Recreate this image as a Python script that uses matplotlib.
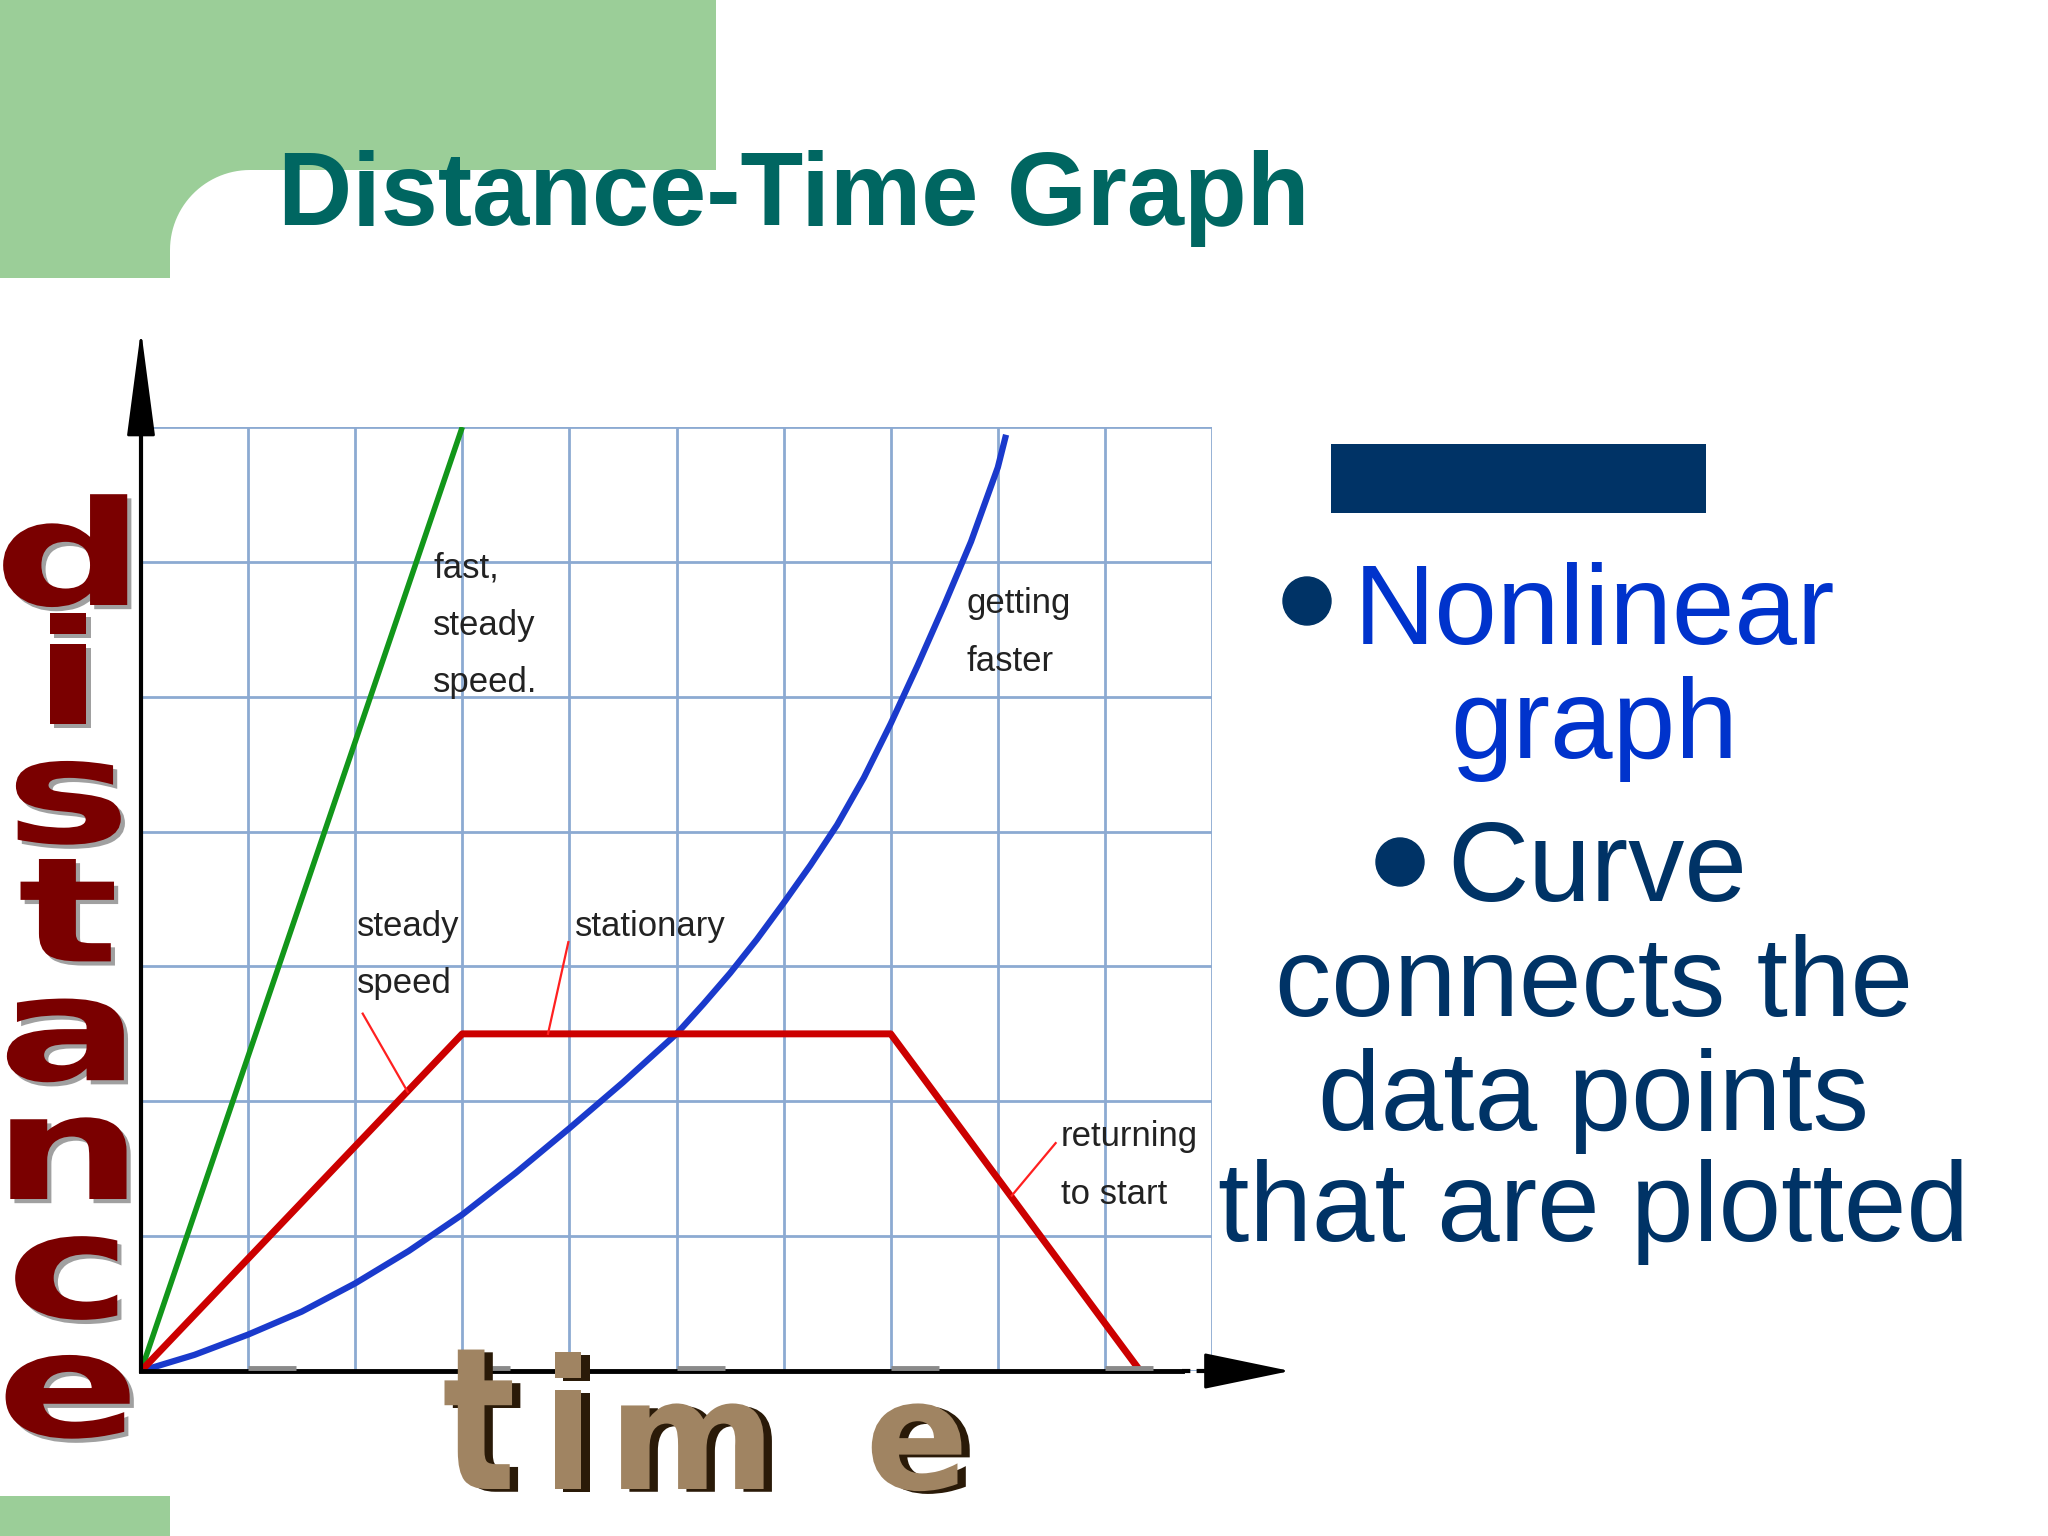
import matplotlib
matplotlib.use('Agg')
import matplotlib.pyplot as plt
import matplotlib.patheffects as pe
from matplotlib.colors import to_rgba
from matplotlib.patches import Rectangle, Circle, Polygon
from matplotlib.transforms import Affine2D
import numpy as np

# %% data (time units on x, distance units on y)
time_ticks = list(range(11))
dist_ticks = list(range(8))

green_t = [0, 3]
green_d = [0, 7]

red_t = [0, 3, 7, 9.33]
red_d = [0, 2.5, 2.5, 0]

blue_t = [0, 0.5, 1, 1.5, 2, 2.5, 3, 3.5, 4, 4.5, 5, 5.25, 5.5, 5.75, 6, 6.25, 6.5, 6.75,
          7, 7.25, 7.5, 7.75, 8, 8.07]
blue_d = [0, 0.12, 0.27, 0.44, 0.65, 0.89, 1.16, 1.47, 1.8, 2.14, 2.5, 2.72, 2.95, 3.2, 3.47,
          3.75, 4.05, 4.4, 4.8, 5.23, 5.68, 6.15, 6.7, 6.92]

labels = ['fast,\nsteady\nspeed.', 'steady\nspeed', 'stationary', 'getting\nfaster', 'returning\nto start']


class Stretch(pe.AbstractPathEffect):
    """Draw a text path scaled about its own bottom centre (word-art look)."""

    def __init__(self, sx=1.0, sy=1.0, offset=(0, 0), color=None):
        super().__init__(offset)
        self.sx, self.sy = sx, sy
        self.color = to_rgba(color) if color is not None else None

    def draw_path(self, renderer, gc, tpath, affine, rgbFace=None):
        bb = tpath.get_extents(affine)
        cx, cy = bb.x0 + bb.width / 2, bb.y0
        ox, oy = renderer.points_to_pixels(self._offset[0]), renderer.points_to_pixels(self._offset[1])
        tr = affine + Affine2D().translate(-cx, -cy).scale(self.sx, self.sy).translate(cx + ox, cy + oy)
        gc0 = renderer.new_gc()
        gc0.copy_properties(gc)
        face = self.color if self.color is not None else rgbFace
        renderer.draw_path(gc0, tpath, tr, face)
        gc0.restore()


# %% figure
W, H = 2048, 1536
fig = plt.figure(figsize=(W / 100, H / 100), dpi=100)
fig.patch.set_facecolor('white')

bg = fig.add_axes([0, 0, 1, 1], zorder=0)
bg.set_xlim(0, W)
bg.set_ylim(H, 0)
bg.axis('off')

green = '#9bce98'
navy = '#003366'
blue_txt = '#0033cc'

# slide decoration
bg.add_patch(Rectangle((0, 0), 716, 170, color=green, lw=0))
bg.add_patch(Rectangle((0, 0), 170, 278, color=green, lw=0))
r = 80
th = np.linspace(-np.pi / 2, -np.pi, 30)
arc = np.column_stack([170 + r + r * np.cos(th), 170 + r + r * np.sin(th)])
bg.add_patch(Polygon(np.vstack([[170, 170], arc]), closed=True, color=green, lw=0))
bg.add_patch(Rectangle((0, 1496), 170, 40, color=green, lw=0))

bg.text(278, 225, 'Distance-Time Graph', color='#006661', fontsize=74,
        fontweight='bold', family='Liberation Sans', ha='left', va='baseline')

# right-hand bullet text
bg.add_patch(Rectangle((1331, 444), 375, 69, color=navy, lw=0))
tk = dict(fontsize=81, family='Liberation Sans', va='baseline')
bg.add_patch(Circle((1307, 601), 24, color=navy))
bg.text(1354, 644, 'Nonlinear', color=blue_txt, ha='left', **tk)
bg.text(1594, 758, 'graph', color=blue_txt, ha='center', **tk)
bg.add_patch(Circle((1400, 862), 24, color=navy))
bg.text(1447, 901, 'Curve', color=navy, ha='left', **tk)
bg.text(1594, 1016, 'connects the', color=navy, ha='center', **tk)
bg.text(1594, 1130, 'data points', color=navy, ha='center', **tk)
bg.text(1594, 1241, 'that are plotted', color=navy, ha='center', **tk)

# %% the graph itself
ax = fig.add_axes([141 / W, (H - 1371) / H, (1212 - 141) / W, (1371 - 427) / H], zorder=1)
ax.set_xlim(0, 10)
ax.set_ylim(0, 7)
ax.patch.set_alpha(0)
for s in ax.spines.values():
    s.set_visible(False)
ax.set_xticks(time_ticks)
ax.set_yticks(dist_ticks)
ax.tick_params(length=0, labelbottom=False, labelleft=False)
ax.grid(True, color='#8caad2', lw=2)

ax.plot(green_t, green_d, color='#12961a', lw=4, solid_capstyle='butt')
ax.plot(blue_t, blue_d, color='#1a3acc', lw=4.5)
ax.plot(red_t, red_d, color='#cc0000', lw=5)

# axes with arrows
ax.plot([0, 0], [0, 7], color='k', lw=3, clip_on=False)
ax.plot([0, 9.72], [0, 0], color='k', lw=3.5, clip_on=False)
ax.plot([9.72, 10.0], [0, 0], color='k', lw=3, ls=(0, (2, 1.5)), clip_on=False)
# faint grey stubs left on the time axis (hidden tick labels in the source image)
odd = time_ticks[1:10:2]
ax.hlines([0.02] * len(odd), odd, [t + 0.45 for t in odd], color='#8a8a8a', lw=3.5, zorder=3)
ax.annotate('', xy=(0, 7.72), xytext=(0, 6.95), annotation_clip=False,
            arrowprops=dict(arrowstyle='-|>,head_length=3.4,head_width=0.45', mutation_scale=20,
                            color='k', lw=2, shrinkA=0, shrinkB=0))
ax.annotate('', xy=(10.73, 0), xytext=(9.95, 0), annotation_clip=False,
            arrowprops=dict(arrowstyle='-|>,head_length=2.8,head_width=0.58', mutation_scale=20,
                            color='k', lw=2, shrinkA=0, shrinkB=0))

# labels and leader lines
lk = dict(fontsize=25, family='Liberation Sans', color='#222222',
          va='top', ha='left', linespacing=1.95)
ax.text(2.73, 6.08, labels[0], **lk)
ax.text(2.02, 3.42, labels[1], **lk)
ax.text(4.05, 3.42, labels[2], **lk)
ax.text(7.71, 5.81, labels[3], **lk)
ax.text(8.59, 1.86, labels[4], **lk)
ax.plot([2.07, 2.49], [2.65, 2.07], color='#ff2020', lw=1.6)
ax.plot([3.99, 3.8], [3.18, 2.5], color='#ff2020', lw=1.6)
ax.plot([8.54, 8.13], [1.69, 1.3], color='#ff2020', lw=1.6)

# %% big word-art axis titles
ov = fig.add_axes([0, 0, 1, 1], zorder=2)
ov.set_xlim(0, W)
ov.set_ylim(H, 0)
ov.axis('off')

ov.text(68, 494, '\n'.join('distance'), color='#7a0000', fontsize=105, fontweight='bold',
        family='DejaVu Sans', ha='center', va='top', multialignment='center', linespacing=0.80,
        path_effects=[Stretch(1.45, 1.0, offset=(3, -3), color='#a0a0a0'), Stretch(1.45, 1.0)])

time_x = [479, 568, 692, 917]
time_sy = [1.3, 1.18, 1.0, 1.0]
time_sx = [1.0, 1.0, 1.06, 1.0]
for ch, x, sx, sy in zip('time', time_x, time_sx, time_sy):
    ov.text(x, 1489, ch, color='#a08462', fontsize=110, fontweight='bold', family='DejaVu Sans',
            ha='center', va='baseline',
            path_effects=[Stretch(sx, sy, offset=(6, -2), color='#2a1a08'), Stretch(sx, sy)])

fig.savefig('out.png', dpi=100, facecolor='white')
